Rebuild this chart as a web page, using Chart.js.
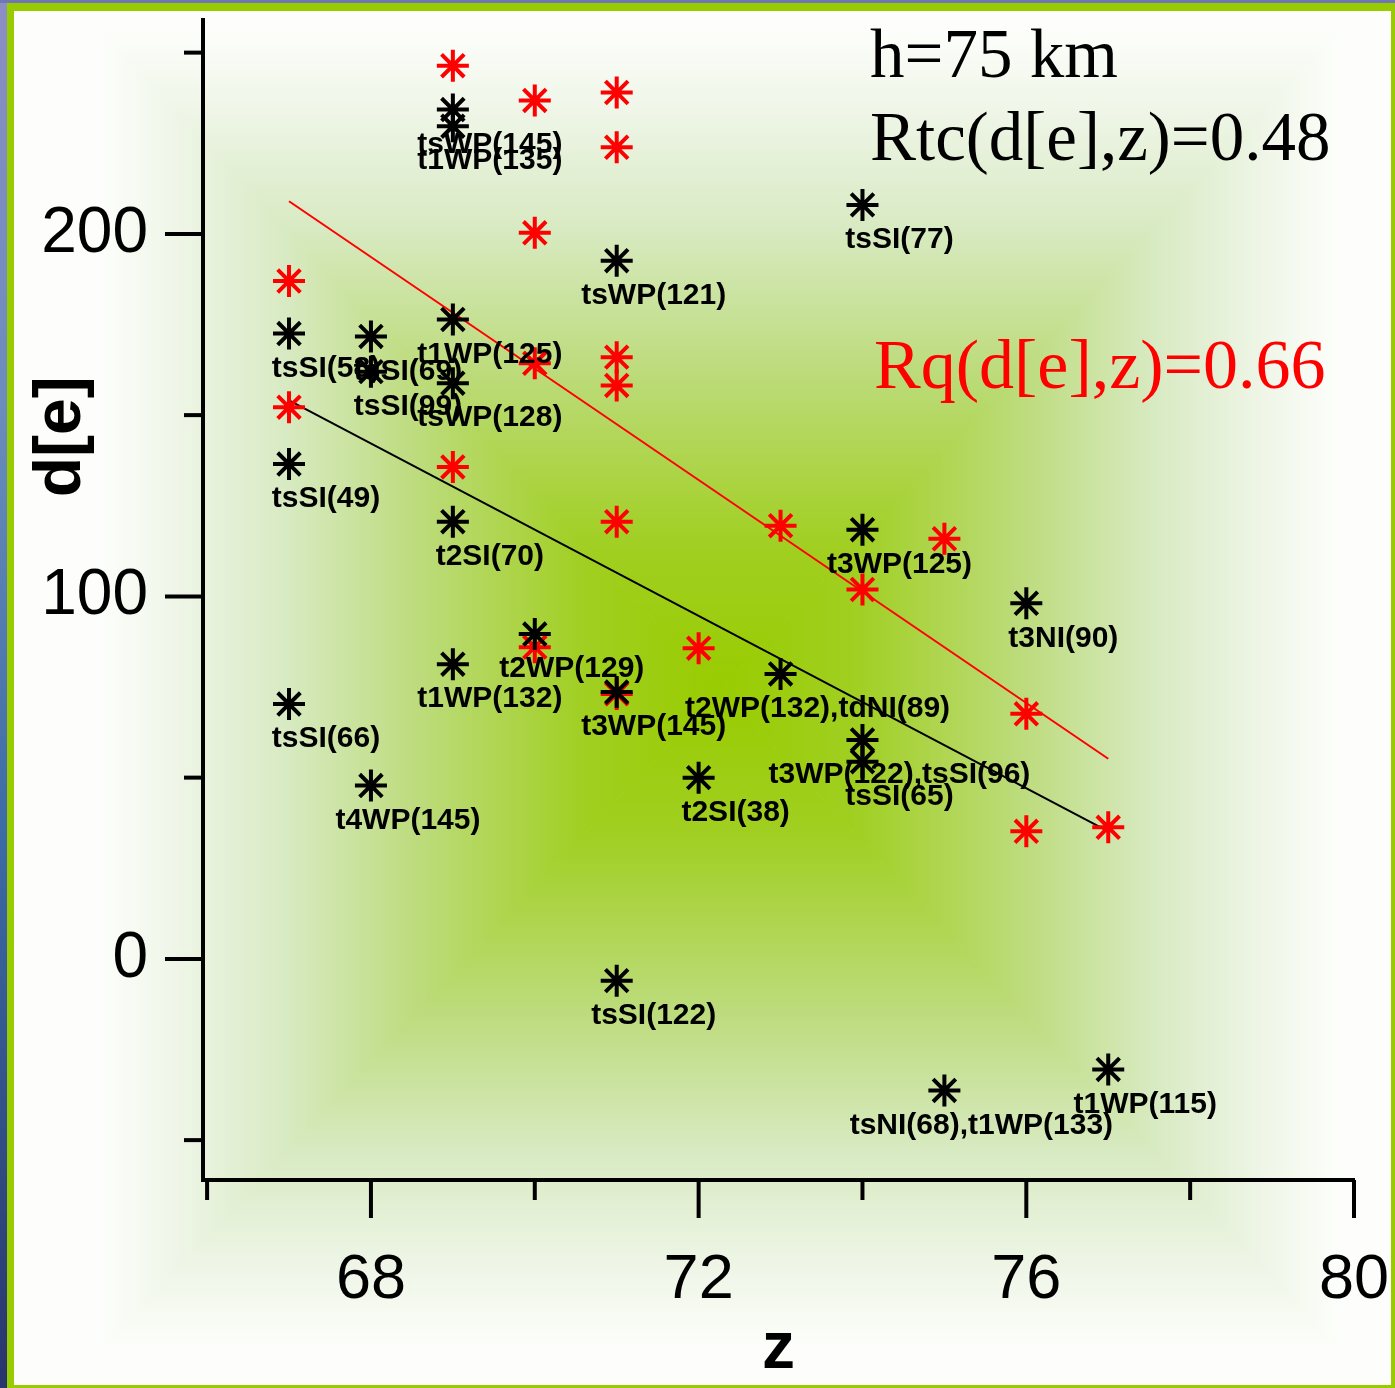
<!DOCTYPE html>
<html>
<head>
<meta charset="utf-8">
<title>d[e] vs z</title>
<script src="https://cdn.jsdelivr.net/npm/chart.js@4.4.1/dist/chart.umd.min.js"></script>
<style>
  html, body { margin: 0; padding: 0; background: #ffffff; overflow: hidden; }
  #contenedor { position: relative; width: 1395px; height: 1388px; }
  #grafico { position: absolute; left: 0; top: 0; }
</style>
</head>
<body>
<div id="contenedor"><canvas id="grafico" width="1395" height="1388"></canvas></div>
<script>
/////////////////////////////////////////// Datos ///////////////////////////////////////
const zNegros = [67, 67, 67, 68, 68, 68, 69, 69, 69, 69, 69, 69, 70, 71, 71, 71, 72, 73, 74, 74, 74, 74, 75, 76, 77];
const deNegros = [172.5, 136.5, 70.3, 171.7, 162, 47.8, 234.3, 229.7, 176.4, 158.8, 120.6, 81.3, 89.6, 192.6, 73.6, -6, 50, 78.6, 208, 118.4, 60.4, 54.4, -36.3, 98.1, -30.5];
const etiquetasNegros = ["tsSI(58)", "tsSI(49)", "tsSI(66)", "tsSI(69)", "tsSI(99)", "t4WP(145)",
  "tsWP(145)", "t1WP(135)", "t1WP(125)", "tsWP(128)", "t2SI(70)", "t1WP(132)", "t2WP(129)",
  "tsWP(121)", "t3WP(145)", "tsSI(122)", "t2SI(38)", "t2WP(132),tdNI(89)", "tsSI(77)",
  "t3WP(125)", "t3WP(122),tsSI(96)", "tsSI(65)", "tsNI(68),t1WP(133)", "t3NI(90)", "t1WP(115)"];

const zRojos = [67, 67, 69, 69, 70, 70, 70, 70, 71, 71, 71, 71, 71, 71, 72, 73, 74, 75, 76, 76, 77];
const deRojos = [187, 152.2, 246.4, 135.7, 236.8, 200.3, 164.3, 86, 239, 223.9, 166, 158.2, 120.6, 73.1, 85.7, 119.5, 101.9, 115.9, 67.6, 35.2, 36.3];

const zRectaNegra = [67, 77];
const deRectaNegra = [154.1, 35.2];
const zRectaRoja = [67, 77];
const deRectaRoja = [209, 55.2];

const ticksZ = [66, 68, 70, 72, 74, 76, 78, 80];
const etiquetasZ = ["", "68", "", "72", "", "76", "", "80"];
const ticksDe = [-50, 0, 50, 100, 150, 200, 250];
const etiquetasDe = ["", "0", "", "100", "", "200", ""];

const tituloZ = "z";
const tituloDe = "d[e]";
const textoAltura = "h=75 km";
const textoRtc = "Rtc(d[e],z)=0.48";
const textoRq = "Rq(d[e],z)=0.66";

/////////////////////////////////////////// Fondo ///////////////////////////////////////
function pintarFondo(ctx, ancho, alto) {
  ctx.save();
  ctx.fillStyle = "#ffffff";
  ctx.fillRect(0, 0, ancho, alto);

  const franja = ctx.createLinearGradient(0, 0, 0, alto);
  franja.addColorStop(0, "#8c8ec4");
  franja.addColorStop(0.3, "#6a8cbc");
  franja.addColorStop(0.6, "#3d6ba6");
  franja.addColorStop(1, "#29356b");
  ctx.fillStyle = franja;
  ctx.fillRect(0, 0, 7, alto);
  ctx.fillStyle = "#6f76b6";
  ctx.fillRect(0, 0, ancho, 3);

  ctx.fillStyle = "#99cc00";
  ctx.fillRect(7, 3, ancho - 7, alto - 3);
  ctx.fillStyle = "#fdfefb";
  ctx.fillRect(14, 11, 1377, 1374);

  ctx.beginPath();
  ctx.rect(14, 11, 1377, 1374);
  ctx.clip();

  // degradado rectangular desde el centro
  const cx = 720, cy = 690, hx = 620, hy = 660;
  const paradas = [[0, "#99cc00"], [0.22, "#a1cf22"], [0.48, "#bcdb7a"], [0.7, "#d8eac2"], [0.87, "#eef5e6"], [1, "#fdfefb"]];
  const lados = [
    [[cx - hx, cy - hy], [cx + hx, cy - hy], [cx, cy - hy]],
    [[cx - hx, cy + hy], [cx + hx, cy + hy], [cx, cy + hy]],
    [[cx - hx, cy - hy], [cx - hx, cy + hy], [cx - hx, cy]],
    [[cx + hx, cy - hy], [cx + hx, cy + hy], [cx + hx, cy]]
  ];
  lados.forEach((lado) => {
    const g = ctx.createLinearGradient(cx, cy, lado[2][0], lado[2][1]);
    paradas.forEach((p) => g.addColorStop(p[0], p[1]));
    ctx.fillStyle = g;
    ctx.beginPath();
    ctx.moveTo(cx, cy);
    ctx.lineTo(lado[0][0], lado[0][1]);
    ctx.lineTo(lado[1][0], lado[1][1]);
    ctx.closePath();
    ctx.fill();
    ctx.strokeStyle = g;
    ctx.lineWidth = 1;
    ctx.stroke();
  });
  ctx.restore();
}

const pluginFondo = {
  id: "fondo",
  beforeDraw(chart) {
    pintarFondo(chart.ctx, chart.width, chart.height);
  }
};

/////////////////////////////////////////// Marcas de ejes ///////////////////////////////
const pluginMarcas = {
  id: "marcas",
  afterDraw(chart) {
    const ctx = chart.ctx;
    const ejeX = chart.scales.x;
    const ejeY = chart.scales.y;
    const area = chart.chartArea;
    ctx.save();
    ctx.strokeStyle = "#000000";
    ctx.lineWidth = 4;
    ticksDe.forEach((v, i) => {
      const py = ejeY.getPixelForValue(v);
      const largo = etiquetasDe[i] ? 38 : 19;
      ctx.beginPath();
      ctx.moveTo(area.left - largo, py);
      ctx.lineTo(area.left, py);
      ctx.stroke();
    });
    ticksZ.forEach((v, i) => {
      const px = ejeX.getPixelForValue(v);
      const largo = etiquetasZ[i] ? 38 : 20;
      ctx.beginPath();
      ctx.moveTo(px, area.bottom);
      ctx.lineTo(px, area.bottom + largo);
      ctx.stroke();
    });

    // titulo del eje vertical
    ctx.fillStyle = "#000000";
    ctx.font = "bold 66px 'Liberation Sans', Arial, sans-serif";
    ctx.textAlign = "center";
    ctx.textBaseline = "middle";
    ctx.translate(62, ejeY.getPixelForValue(144));
    ctx.rotate(-Math.PI / 2);
    ctx.fillText(tituloDe, 0, 0);
    ctx.restore();

    // textos de correlacion
    ctx.save();
    ctx.textAlign = "left";
    ctx.textBaseline = "alphabetic";
    ctx.font = "69px 'Liberation Serif', 'Times New Roman', serif";
    ctx.fillStyle = "#000000";
    ctx.fillText(textoAltura, 870, 77);
    ctx.fillText(textoRtc, 870, 160);
    ctx.fillStyle = "#ff0000";
    ctx.font = "70px 'Liberation Serif', 'Times New Roman', serif";
    ctx.fillText(textoRq, 874, 388);
    ctx.restore();
  }
};

/////////////////////////////////////////// Etiquetas de puntos ///////////////////////////
const pluginEtiquetas = {
  id: "etiquetas",
  afterDatasetsDraw(chart) {
    const ctx = chart.ctx;
    const ejeX = chart.scales.x;
    const ejeY = chart.scales.y;
    ctx.save();
    ctx.fillStyle = "#000000";
    ctx.font = "bold 30px 'Liberation Sans', Arial, sans-serif";
    ctx.textAlign = "center";
    ctx.textBaseline = "middle";
    etiquetasNegros.forEach((texto, i) => {
      const px = ejeX.getPixelForValue(zNegros[i]) + 37;
      const py = ejeY.getPixelForValue(deNegros[i]) + 35;
      ctx.fillText(texto, px, py);
    });
    ctx.restore();
  }
};

/////////////////////////////////////////// Grafico ///////////////////////////////////////
function puntos(zs, ds) {
  return zs.map((z, i) => {
    return { x: z, y: ds[i] };
  });
}

function sinRelleno(eje) {
  eje.paddingTop = 0;
  eje.paddingBottom = 0;
  eje.paddingLeft = 0;
  eje.paddingRight = 0;
}

function configuracionGrafico() {
  const config = {
    type: "scatter",
    data: {
      datasets: [
        {
          label: "negros",
          data: puntos(zNegros, deNegros),
          pointStyle: "star",
          radius: 16,
          borderWidth: 4,
          borderColor: "#000000",
          backgroundColor: "#000000"
        },
        {
          label: "rojos",
          data: puntos(zRojos, deRojos),
          pointStyle: "star",
          radius: 16,
          borderWidth: 4,
          borderColor: "#ff0000",
          backgroundColor: "#ff0000"
        },
        {
          type: "line",
          label: "recta negra",
          data: puntos(zRectaNegra, deRectaNegra),
          borderColor: "#000000",
          borderWidth: 2,
          pointRadius: 0,
          fill: false
        },
        {
          type: "line",
          label: "recta roja",
          data: puntos(zRectaRoja, deRectaRoja),
          borderColor: "#ff0000",
          borderWidth: 2,
          pointRadius: 0,
          fill: false
        }
      ]
    },
    options: {
      responsive: false,
      animation: false,
      devicePixelRatio: 1,
      layout: { padding: { left: 0, top: 15, right: 41, bottom: 0 } },
      plugins: {
        legend: { display: false },
        tooltip: { enabled: false }
      },
      scales: {
        x: {
          type: "linear",
          position: "bottom",
          min: 65.95,
          max: 80,
          afterBuildTicks: (eje) => {
            eje.ticks = ticksZ.map((v) => ({ value: v }));
          },
          afterFit: (eje) => {
            eje.height = 208;
            sinRelleno(eje);
          },
          ticks: {
            autoSkip: false,
            maxRotation: 0,
            padding: 63,
            color: "#000000",
            font: { family: "'Liberation Sans', Arial, sans-serif", size: 63 },
            callback: (v) => etiquetasZ[ticksZ.indexOf(v)] || ""
          },
          grid: { drawOnChartArea: false, drawTicks: false },
          border: { display: true, color: "#000000", width: 4 },
          title: {
            display: true,
            text: tituloZ,
            color: "#000000",
            font: { family: "'Liberation Sans', Arial, sans-serif", size: 66, weight: "bold", lineHeight: 1 },
            padding: { top: 0, bottom: 5 }
          }
        },
        y: {
          type: "linear",
          min: -61,
          max: 259,
          afterBuildTicks: (eje) => {
            eje.ticks = ticksDe.map((v) => ({ value: v }));
          },
          afterFit: (eje) => {
            eje.width = 203;
            sinRelleno(eje);
          },
          ticks: {
            autoSkip: false,
            padding: 55,
            color: "#000000",
            font: { family: "'Liberation Sans', Arial, sans-serif", size: 64 },
            callback: (v) => etiquetasDe[ticksDe.indexOf(v)] || ""
          },
          grid: { drawOnChartArea: false, drawTicks: false },
          border: { display: true, color: "#000000", width: 4 }
        }
      }
    },
    plugins: [pluginFondo, pluginEtiquetas, pluginMarcas]
  };
  return config;
}

const etiquetaGrafico = document.getElementById("grafico");
new Chart(etiquetaGrafico, configuracionGrafico());
</script>
</body>
</html>
